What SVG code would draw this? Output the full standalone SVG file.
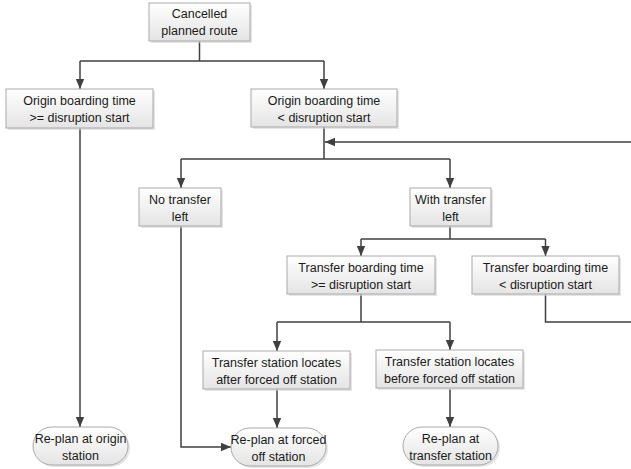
<svg xmlns="http://www.w3.org/2000/svg" width="631" height="469" viewBox="0 0 631 469">
<style>
.box{fill:url(#g);stroke:#a9a9a9;stroke-width:1}
.sh{fill:#d4d4d4;opacity:0.6}
.t{font-family:"Liberation Sans",Arial,sans-serif;font-size:12.5px;fill:#1a1a1a;text-anchor:middle}
.c{fill:none;stroke:#404040;stroke-width:1.5}
</style>
<defs>
<linearGradient id="g" x1="0" y1="0" x2="0" y2="1">
<stop offset="0" stop-color="#ffffff"/>
<stop offset="1" stop-color="#e4e4e4"/>
</linearGradient>
<marker id="a" markerUnits="userSpaceOnUse" markerWidth="10" markerHeight="10" viewBox="0 0 10 10" refX="10" refY="5" orient="auto">
<path d="M0,0.8 L10,5 L0,9.2 z" fill="#404040"/>
</marker>
</defs>
<g id="connectors">
<path class="c" d="M199.5 41 V61 M80 61 H324"/>
<path class="c" d="M80 61 V89" marker-end="url(#a)"/>
<path class="c" d="M324 61 V89" marker-end="url(#a)"/>
<path class="c" d="M80 128 V427" marker-end="url(#a)"/>
<path class="c" d="M324 127 V159 M181 159 H450"/>
<path class="c" d="M181 159 V188" marker-end="url(#a)"/>
<path class="c" d="M450 159 V188" marker-end="url(#a)"/>
<path class="c" d="M545.5 294 V322 H640 V142 H325" marker-end="url(#a)"/>
<path class="c" d="M450 226 V239 M361 239 H545.5"/>
<path class="c" d="M361 239 V256" marker-end="url(#a)"/>
<path class="c" d="M545.5 239 V256" marker-end="url(#a)"/>
<path class="c" d="M361 294 V322 M277 322 H450"/>
<path class="c" d="M277 322 V351" marker-end="url(#a)"/>
<path class="c" d="M450 322 V350" marker-end="url(#a)"/>
<path class="c" d="M181 226 V447 H231" marker-end="url(#a)"/>
<path class="c" d="M277 389 V428" marker-end="url(#a)"/>
<path class="c" d="M450 389 V427" marker-end="url(#a)"/>
</g>
<g id="n1">
<rect class="sh" x="151" y="5" width="101" height="38"/>
<rect class="box" x="149" y="3" width="101" height="38"/>
<text class="t" x="199.5" y="18">Cancelled</text>
<text class="t" x="199.5" y="35">planned route</text>
</g>
<g id="n2">
<rect class="sh" x="8" y="91" width="147" height="39"/>
<rect class="box" x="6" y="89" width="147" height="39"/>
<text class="t" x="79.5" y="104.5">Origin boarding time</text>
<text class="t" x="79.5" y="121.5">&gt;= disruption start</text>
</g>
<g id="n3">
<rect class="sh" x="253" y="91" width="146" height="38"/>
<rect class="box" x="251" y="89" width="146" height="38"/>
<text class="t" x="324" y="104.5">Origin boarding time</text>
<text class="t" x="324" y="121.5">&lt; disruption start</text>
</g>
<g id="n4">
<rect class="sh" x="141" y="190" width="82" height="38"/>
<rect class="box" x="139" y="188" width="82" height="38"/>
<text class="t" x="180" y="203.5">No transfer</text>
<text class="t" x="180" y="220.5">left</text>
</g>
<g id="n5">
<rect class="sh" x="412" y="190" width="81" height="38"/>
<rect class="box" x="410" y="188" width="81" height="38"/>
<text class="t" x="450.5" y="203.5">With transfer</text>
<text class="t" x="450.5" y="220.5">left</text>
</g>
<g id="n6">
<rect class="sh" x="289" y="258" width="148" height="38"/>
<rect class="box" x="287" y="256" width="148" height="38"/>
<text class="t" x="361" y="271.5">Transfer boarding time</text>
<text class="t" x="361" y="288.5">&gt;= disruption start</text>
</g>
<g id="n7">
<rect class="sh" x="474" y="258" width="147" height="38"/>
<rect class="box" x="472" y="256" width="147" height="38"/>
<text class="t" x="545.5" y="271.5">Transfer boarding time</text>
<text class="t" x="545.5" y="288.5">&lt; disruption start</text>
</g>
<g id="n8">
<rect class="sh" x="205" y="353" width="147" height="38"/>
<rect class="box" x="203" y="351" width="147" height="38"/>
<text class="t" x="276.5" y="366.5">Transfer station locates</text>
<text class="t" x="276.5" y="383.5">after forced off station</text>
</g>
<g id="n9">
<rect class="sh" x="378" y="352" width="147" height="38"/>
<rect class="box" x="376" y="350" width="147" height="38"/>
<text class="t" x="449.5" y="365.5">Transfer station locates</text>
<text class="t" x="449.5" y="382.5">before forced off station</text>
</g>
<g id="t1">
<rect class="sh" x="35" y="429" width="95" height="38" rx="19" ry="19"/>
<rect class="box" x="33" y="427" width="95" height="38" rx="19" ry="19"/>
<text class="t" x="80.5" y="442.5">Re-plan at origin</text>
<text class="t" x="80.5" y="459.5">station</text>
</g>
<g id="t2">
<rect class="sh" x="233" y="430" width="95" height="38" rx="19" ry="19"/>
<rect class="box" x="231" y="428" width="95" height="38" rx="19" ry="19"/>
<text class="t" x="278.5" y="443.5">Re-plan at forced</text>
<text class="t" x="278.5" y="460.5">off station</text>
</g>
<g id="t3">
<rect class="sh" x="405" y="429" width="95" height="38" rx="19" ry="19"/>
<rect class="box" x="403" y="427" width="95" height="38" rx="19" ry="19"/>
<text class="t" x="450.5" y="442.5">Re-plan at</text>
<text class="t" x="450.5" y="459.5">transfer station</text>
</g>
</svg>
